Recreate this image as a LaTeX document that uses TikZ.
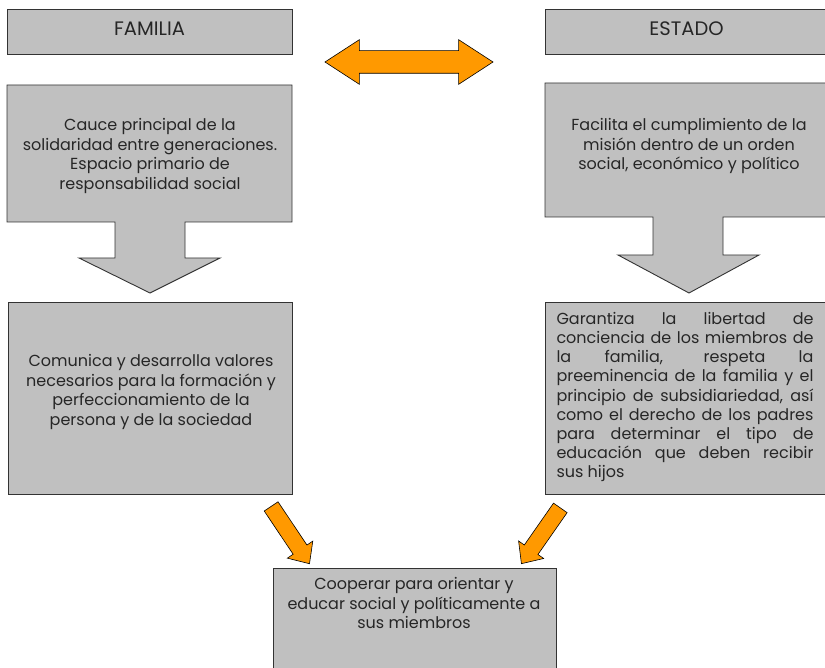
\documentclass[tikz,border=0pt]{standalone}
\usepackage{fontspec}
\setmainfont{Poppins}
\usetikzlibrary{shapes.arrows}
\definecolor{boxgray}{HTML}{C0C0C0}
\definecolor{naranja}{HTML}{FF9900}
\begin{document}
\begin{tikzpicture}[x=1pt, y=-1pt, every node/.style={font=\fontsize{16}{19.6}\selectfont, text=black!85}, gb/.style={draw=black!80, line width=0.9pt, fill=boxgray}, hd/.style={gb, minimum height=45pt, text depth=6pt, inner sep=0pt, font=\fontsize{19.5}{22}\selectfont}, tx/.style={align=center, inner sep=0pt}, oa/.style={draw=black, line width=0.6pt, fill=naranja, inner xsep=0pt}]
	\useasboundingbox (0,0) rectangle (825,668);
	% encabezados
	\node[hd, minimum width=285pt] (fam) at (149.5,31.5) {FAMILIA};
	\node[hd, minimum width=283pt, text width=277pt, align=center, xshift=-2.5pt] (est) at (689,31.5) {ESTADO};
	\node[oa, double arrow, minimum height=168pt, inner ysep=11pt, double arrow head extend=11pt, double arrow tip angle=66] (rel) at (409,62) {};
	% cajas con flecha
	\draw[gb] (7,85) -- (292,85) -- (292,222) -- (185,222) -- (185,258) -- (220,258) -- (150,293) -- (79,258) -- (115,258) -- (115,222) -- (7,222) -- cycle;
	\draw[gb] (545,83) -- (828,83) -- (828,217) -- (723,217) -- (723,255) -- (759,255) -- (689,293) -- (618,255) -- (653,255) -- (653,217) -- (545,217) -- cycle;
	\node[tx] (cauce) at (150,156) {Cauce principal de la\\solidaridad entre generaciones.\\Espacio primario de\\responsabilidad social};
	\node[tx] (facil) at (689,146) {Facilita el cumplimiento de la\\misión dentro de un orden\\social, económico y político};
	% cajas centrales
	\draw[gb] (8,302) rectangle (292,494);
	\draw[gb] (545,302) rectangle (828,494);
	\node[tx] (comu) at (151,392) {Comunica y desarrolla valores\\necesarios para la formación y\\perfeccionamiento de la\\persona y de la sociedad};
	\node[inner sep=0pt, text width=257pt, align=justify, font=\fontsize{16}{19.2}\selectfont] (gara) at (685,397) {Garantiza la libertad de\linebreak conciencia de los miembros de\linebreak la familia, respeta la\linebreak preeminencia de la familia y el\linebreak principio de subsidiariedad, así\linebreak como el derecho de los padres\linebreak para determinar el tipo de\linebreak educación que deben recibir\linebreak sus hijos};
	% caja inferior
	\draw[gb] (273,568) rectangle (556,675);
	\node[tx] (coop) at (414,603) {Cooperar para orientar y\\educar social y políticamente a\\sus miembros};
	\node[oa, single arrow, minimum height=69pt, inner ysep=8pt, single arrow head extend=7pt, single arrow tip angle=84, rotate=-56.2] (fl) at (287.75,531.25) {};
	\node[oa, single arrow, minimum height=68pt, inner ysep=8pt, single arrow head extend=7pt, single arrow tip angle=84, rotate=-124.9] (fr) at (543.5,532) {};
\end{tikzpicture}
\end{document}
